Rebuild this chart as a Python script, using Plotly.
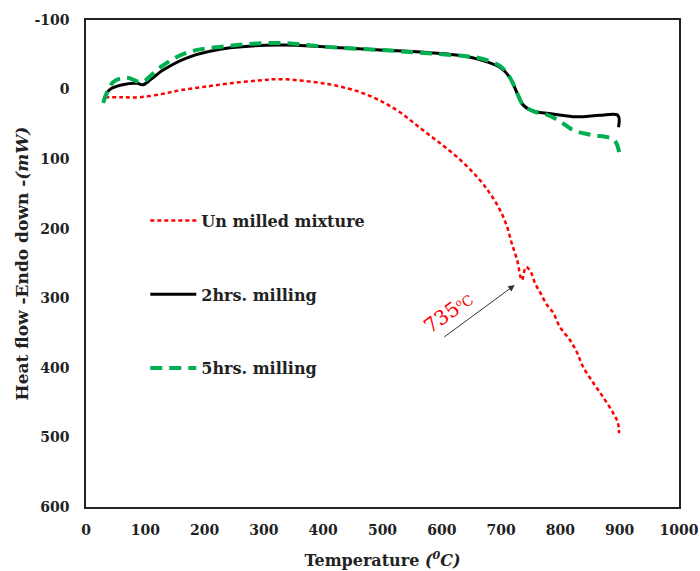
import plotly.graph_objects as go

# ---- data ----
t_unmilled = [32, 60, 91, 130, 159, 200, 243, 290, 327, 383, 420, 460, 496, 530, 563, 597, 631, 659, 681,
              698, 710, 718, 727, 735, 742, 750, 757, 766, 777, 788, 799, 816, 828, 838, 855, 872, 889, 897, 899]
v_unmilled = [11, 11, 11, 6, 1, -4, -9, -13, -15, -11, -6, 3, 16, 33, 55, 77, 101, 125, 149,
              173, 197, 221, 245, 274, 255, 262, 278, 292, 309, 321, 341, 360, 378, 398, 421, 442, 465, 479, 494]

t_2hrs = [30, 40, 62, 86, 96, 110, 130, 175, 243, 327, 411, 496, 580, 640, 664, 698, 715, 727, 737, 754,
          777, 821, 838, 867, 897, 898]
v_2hrs = [14, 0, -7, -9, -7, -15, -28, -47, -60, -64, -61, -57, -53, -48, -43, -32, -17, 5, 22, 31,
          34, 39, 39, 37, 37, 54]

t_5hrs = [29, 46, 69, 94, 125, 170, 243, 327, 411, 496, 563, 640, 664, 698, 715, 727, 737, 754,
          777, 800, 821, 850, 890, 899]
v_5hrs = [19, -11, -17, -11, -32, -53, -63, -67, -61, -57, -53, -48, -45, -34, -17, 5, 22, 31,
          36, 46, 58, 65, 72, 90]

names = ["Un milled mixture", "2hrs. milling", "5hrs. milling"]
x_ticks = [0, 100, 200, 300, 400, 500, 600, 700, 800, 900, 1000]
y_ticks = [-100, 0, 100, 200, 300, 400, 500, 600]

peak_t, peak_v = 723, 281
label_t, label_v = 612, 320

FONT = "DejaVu Serif"

fig = go.Figure()
fig.add_trace(go.Scatter(x=t_unmilled, y=v_unmilled, mode="lines", name=names[0], legendgroup="a",
                         line=dict(color="#ff0000", width=2.5, dash="4px,3px"), line_shape="spline"))
fig.add_trace(go.Scatter(x=t_2hrs, y=v_2hrs, mode="lines", name=names[1], legendgroup="b",
                         line=dict(color="#000000", width=3), line_shape="spline"))
fig.add_trace(go.Scatter(x=t_5hrs, y=v_5hrs, mode="lines", name=names[2], legendgroup="c",
                         line=dict(color="#00b050", width=4, dash="12px,7px"), line_shape="spline"))

fig.add_annotation(x=peak_t, y=peak_v, ax=-72, ay=53, text="", showarrow=True,
                   arrowhead=2, arrowsize=1.3, arrowwidth=1, arrowcolor="#333333")
fig.add_annotation(x=label_t, y=label_v, showarrow=False, textangle=-36,
                   text="735<span style='font-size:14px'><sup>o</sup>C</span>",
                   font=dict(family=FONT, size=20, color="#ff0000"))

fig.update_layout(
    width=700, height=571,
    margin=dict(l=86, r=21, t=20, b=64, autoexpand=False),
    paper_bgcolor="white", plot_bgcolor="white",
    font=dict(family=FONT, color="#222222"),
    legend=dict(x=0.1, y=0.623, xanchor="left", yanchor="top", tracegroupgap=50,
                itemwidth=46,
                font=dict(family=FONT, size=16, color="#222222", weight="bold"),
                bgcolor="rgba(0,0,0,0)"),
    xaxis=dict(range=[0, 1000], tickvals=x_ticks, showgrid=False, zeroline=False,
               showline=True, mirror=True, linecolor="#222222", linewidth=1.5,
               ticks="", ticklabelstandoff=9, automargin=True,
               tickfont=dict(family=FONT, size=14, color="#222222", weight="bold"),
               title=dict(text="<b>Temperature <i>(<sup>0</sup>C)</i></b>", standoff=18,
                          font=dict(family=FONT, size=16, color="#222222"))),
    yaxis=dict(range=[600, -100], tickvals=y_ticks, ticktext=[str(v) for v in y_ticks],
               showgrid=False, zeroline=False,
               showline=True, mirror=True, linecolor="#222222", linewidth=1.5,
               ticks="", ticklabelstandoff=12, automargin=True,
               tickfont=dict(family=FONT, size=14, color="#222222", weight="bold"),
               title=dict(text="<b>Heat flow -Endo down -<i>(mW)</i></b>", standoff=1,
                          font=dict(family=FONT, size=17, color="#222222"))),
)

fig.write_html("out.html")
